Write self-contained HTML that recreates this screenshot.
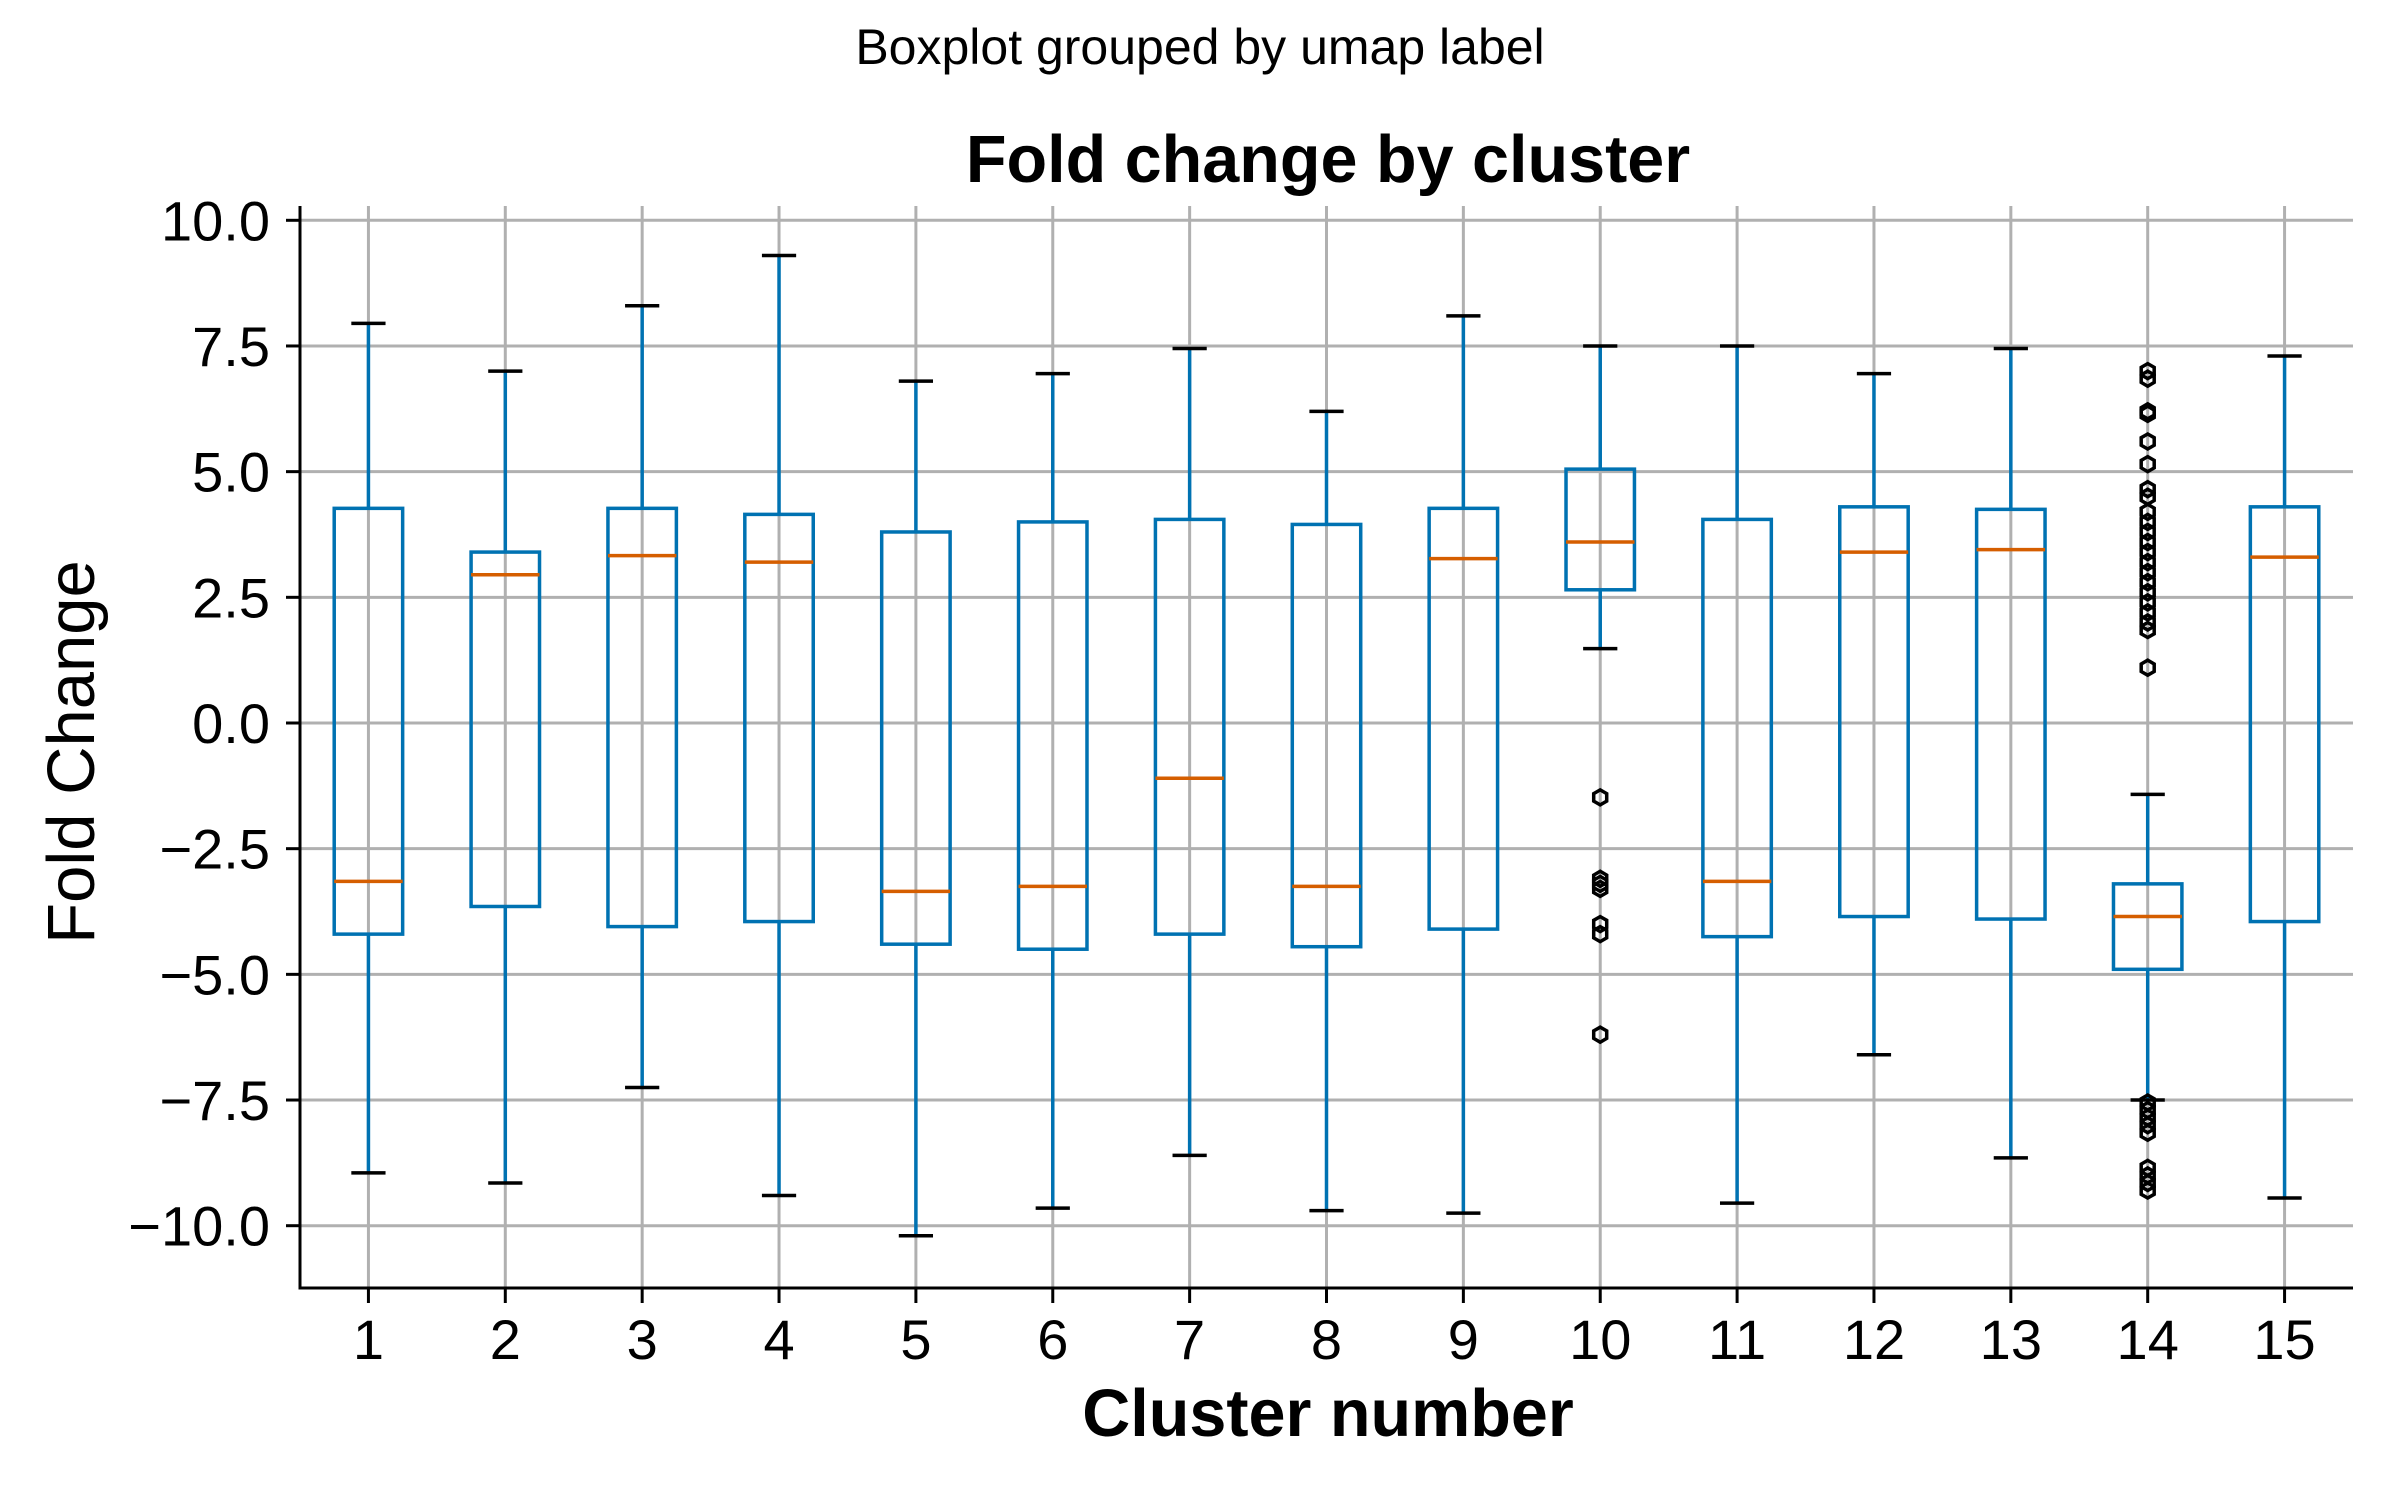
<!DOCTYPE html>
<html><head><meta charset="utf-8"><style>
html,body{margin:0;padding:0;background:#fff;}
svg{display:block;font-family:"Liberation Sans",Arial,sans-serif;}
</style></head><body>
<svg id="chart" width="2400" height="1500" viewBox="0 0 2400 1500" xmlns="http://www.w3.org/2000/svg">
<rect width="2400" height="1500" fill="#fff"/>
<text x="1200" y="64" text-anchor="middle" font-size="50">Boxplot grouped by umap label</text>
<text x="1328" y="182" text-anchor="middle" font-size="66.5" font-weight="bold">Fold change by cluster</text>
<text x="1328" y="1436" text-anchor="middle" font-size="66.5" font-weight="bold">Cluster number</text>
<text x="0" y="0" transform="translate(94,752) rotate(-90)" text-anchor="middle" font-size="67">Fold Change</text>
<g id="grid"></g><g id="marks"></g><g id="axes"></g>
</svg>
<script>
const categories = ["1","2","3","4","5","6","7","8","9","10","11","12","13","14","15"];
const whiskerHigh = [7.95,7.0,8.3,9.3,6.8,6.95,7.45,6.2,8.1,7.5,7.5,6.95,7.45,-1.42,7.3];
const q3Values = [4.27,3.4,4.27,4.15,3.8,4.0,4.05,3.95,4.27,5.05,4.05,4.3,4.25,-3.2,4.3];
const medianValues = [-3.15,2.95,3.33,3.2,-3.35,-3.25,-1.1,-3.25,3.27,3.6,-3.15,3.4,3.45,-3.85,3.3];
const q1Values = [-4.2,-3.65,-4.05,-3.95,-4.4,-4.5,-4.2,-4.45,-4.1,2.65,-4.25,-3.85,-3.9,-4.9,-3.95];
const whiskerLow = [-8.95,-9.15,-7.25,-9.4,-10.2,-9.65,-8.6,-9.7,-9.75,1.48,-9.55,-6.6,-8.65,-7.5,-9.45];
const outliers10 = [-1.48,-3.1,-3.2,-3.3,-4.0,-4.2,-6.2];
const outliers14 = [7.0,6.85,6.2,6.15,5.6,5.15,4.65,4.5,4.2,4.0,3.8,3.6,3.4,3.2,3.0,2.8,2.6,2.4,2.2,2.0,1.85,1.1,-7.55,-7.7,-7.85,-8.0,-8.15,-8.85,-9.0,-9.15,-9.3];
const outlierCats = [9,13];
const yTicks = [10,7.5,5,2.5,0,-2.5,-5,-7.5,-10];
const yTickLabels = ["10.0","7.5","5.0","2.5","0.0","\u22122.5","\u22125.0","\u22127.5","\u221210.0"];

const L=300,R=2353,T=206,B=1288;
const bw=(R-L)/categories.length;
const xs=i=>L+(i+0.5)*bw;
const ys=v=>723-50.27*v;
const NS="http://www.w3.org/2000/svg";
const SW=3.5;
function mk(tag,attrs,parent){const e=document.createElementNS(NS,tag);for(const k in attrs)e.setAttribute(k,attrs[k]);parent.appendChild(e);return e;}
const grid=document.getElementById('grid'),marks=document.getElementById('marks'),axes=document.getElementById('axes');

yTicks.forEach((v,i)=>{
  const g=mk('line',{x1:L,x2:R,y1:ys(v),y2:ys(v),stroke:'#b0b0b0','stroke-width':3},grid);
  
  
  const t=mk('line',{x1:286,x2:L,y1:ys(v),y2:ys(v),stroke:'#000','stroke-width':3},axes);
  
  
  const tx=mk('text',{x:270,y:ys(v)+20,'text-anchor':'end','font-size':56},axes);
  tx.textContent=yTickLabels[i];
  
  
});
categories.forEach((c,i)=>{
  const x=xs(i);
  const g=mk('line',{x1:x,x2:x,y1:T,y2:B,stroke:'#b0b0b0','stroke-width':3},grid);
  
  
  const t=mk('line',{x1:x,x2:x,y1:B,y2:B+15,stroke:'#000','stroke-width':3},axes);
  
  
  const tx=mk('text',{x:x,y:1359,'text-anchor':'middle','font-size':56},axes);
  tx.textContent=c;
  
  

  const grp=mk('g',{},marks);
  
  
  const hw=bw*0.25, cw=bw*0.125;
  mk('line',{x1:x,x2:x,y1:ys(q3Values[i]),y2:ys(whiskerHigh[i]),stroke:'#0072B2','stroke-width':SW},grp);
  mk('line',{x1:x,x2:x,y1:ys(q1Values[i]),y2:ys(whiskerLow[i]),stroke:'#0072B2','stroke-width':SW},grp);
  mk('rect',{x:x-hw,y:ys(q3Values[i]),width:2*hw,height:ys(q1Values[i])-ys(q3Values[i]),fill:'none',stroke:'#0072B2','stroke-width':SW},grp);
  mk('line',{x1:x-hw,x2:x+hw,y1:ys(medianValues[i]),y2:ys(medianValues[i]),stroke:'#D55E00','stroke-width':SW},grp);
  mk('line',{x1:x-cw,x2:x+cw,y1:ys(whiskerHigh[i]),y2:ys(whiskerHigh[i]),stroke:'#000','stroke-width':SW},grp);
  mk('line',{x1:x-cw,x2:x+cw,y1:ys(whiskerLow[i]),y2:ys(whiskerLow[i]),stroke:'#000','stroke-width':SW},grp);
});
[outliers10,outliers14].forEach((arr,k)=>{
  const x=xs(outlierCats[k]);
  arr.forEach(v=>{
    const y=ys(v),r=7.5;let pts=[];
    for(let a=0;a<6;a++){const ang=Math.PI/6+a*Math.PI/3;pts.push((x+r*Math.cos(ang)).toFixed(1)+','+(y+r*Math.sin(ang)).toFixed(1));}
    const p=mk('polygon',{points:pts.join(' '),fill:'none',stroke:'#000','stroke-width':3.5},marks);
    
    
  });
});
const sl=mk('line',{x1:L,x2:L,y1:T,y2:B+1.5,stroke:'#000','stroke-width':3},axes);


const sb=mk('line',{x1:L-1.5,x2:R,y1:B,y2:B,stroke:'#000','stroke-width':3},axes);


</script>
</body></html>
